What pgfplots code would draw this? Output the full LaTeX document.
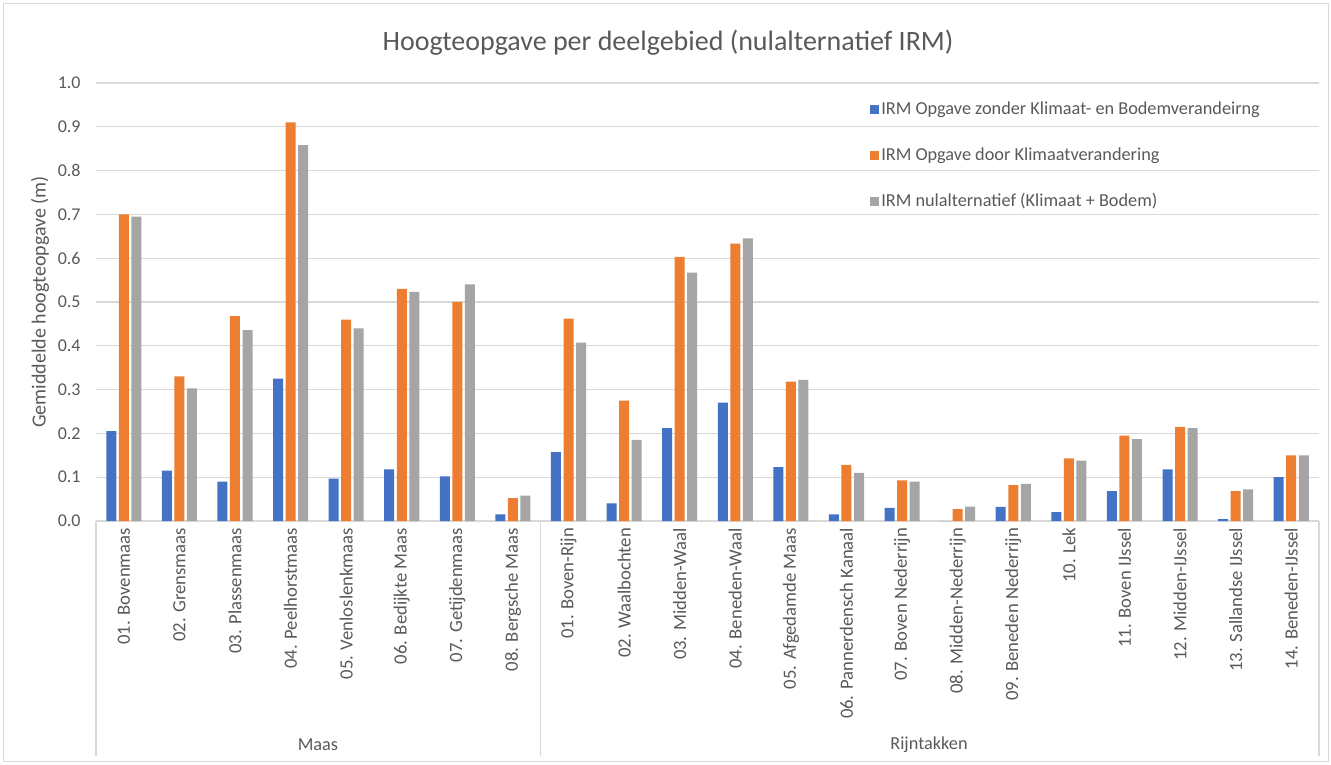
\documentclass[border=0pt]{standalone}
\usepackage{fontspec}
\setmainfont{Carlito}
\usepackage{pgfplots}
\usepackage{pgfplotstable}
\pgfplotsset{compat=1.18}

\definecolor{irmblue}{HTML}{4472C4}
\definecolor{irmorange}{HTML}{ED7D31}
\definecolor{irmgray}{HTML}{A5A5A5}
\definecolor{txt}{HTML}{595959}
\definecolor{gridc}{HTML}{D9D9D9}

% x: 0-7 Maas, 8-21 Rijntakken
\pgfplotstableread{
x zonder klimaat nul
0  0.205 0.700 0.695
1  0.115 0.330 0.303
2  0.090 0.468 0.436
3  0.325 0.910 0.858
4  0.097 0.460 0.440
5  0.118 0.530 0.523
6  0.102 0.500 0.540
7  0.015 0.052 0.058
8  0.157 0.462 0.407
9  0.040 0.275 0.185
10 0.212 0.603 0.567
11 0.270 0.633 0.645
12 0.123 0.318 0.322
13 0.015 0.128 0.110
14 0.030 0.093 0.090
15 0.000 0.027 0.033
16 0.032 0.082 0.085
17 0.020 0.143 0.138
18 0.068 0.195 0.187
19 0.118 0.215 0.212
20 0.004 0.068 0.072
21 0.100 0.150 0.150
}\data

\begin{document}
\begin{tikzpicture}[x=0.75pt,y=0.75pt]
\useasboundingbox (0,0) rectangle (1331,764);
\draw[gridc] (3,3) rectangle (1328,761);

\begin{axis}[
    at={(72pt,182.25pt)}, anchor=south west,
    scale only axis,
    width=917.25pt, height=328.5pt,
    ybar=1.9pt, bar width=7.5pt,
    xmin=-0.5, xmax=21.5,
    ymin=0, ymax=1.0,
    ytick={0,0.1,...,1.0},
    yticklabel style={/pgf/number format/fixed, /pgf/number format/fixed zerofill,
      /pgf/number format/precision=1},
    /pgf/number format/assume math mode=true,
    xtick=data,
    xticklabels={01. Bovenmaas, 02. Grensmaas, 03. Plassenmaas, 04. Peelhorstmaas,
      05. Venloslenkmaas, 06. Bedijkte Maas, 07. Getijdenmaas, 08. Bergsche Maas,
      01. Boven-Rijn, 02. Waalbochten, 03. Midden-Waal, 04. Beneden-Waal,
      05. Afgedamde Maas, 06. Pannerdensch Kanaal, 07. Boven Nederrijn,
      08. Midden-Nederrijn, 09. Beneden Nederrijn, 10. Lek, 11. Boven IJssel,
      12. Midden-IJssel, 13. Sallandse IJssel, 14. Beneden-IJssel},
    xticklabel style={yshift=-5pt, rotate=90, anchor=east, font=\fontsize{14}{16}\selectfont, text=txt, inner sep=0pt},
    yticklabel style={xshift=-8pt, font=\fontsize{13.5}{15}\selectfont, text=txt},
    major tick length=0pt,
    axis x line*=bottom,
    axis y line*=left,
    x axis line style={gridc, line width=0.8pt},
    y axis line style={draw=none},
    ymajorgrids, grid style={gridc, line width=0.8pt},
    axis line style={-},
    clip=false,
    legend style={at={(0.629,0.969)}, anchor=north west, draw=none, fill=none,
      font=\fontsize{13.7}{15}\selectfont, text=txt, row sep=19.2pt, cells={anchor=west}},
    legend image code/.code={\fill[#1,draw=none] (0pt,-3.4pt) rectangle (6.8pt,3.4pt);},
]
\addplot[fill=irmblue, draw=none] table[x=x, y=zonder] {\data};
\addplot[fill=irmorange, draw=none] table[x=x, y=klimaat] {\data};
\addplot[fill=irmgray, draw=none] table[x=x, y=nul] {\data};
\legend{IRM Opgave zonder Klimaat- en Bodemverandeirng,
  IRM Opgave door Klimaatverandering,
  IRM nulalternatief (Klimaat + Bodem)}
\end{axis}

% group separators
\draw[gridc, line width=0.8pt] (96,243) -- (96,8);
\draw[gridc, line width=0.8pt] (540.6,243) -- (540.6,8);
\draw[gridc, line width=0.8pt] (1319,243) -- (1319,8);
\node[text=txt, font=\fontsize{13.7}{15}\selectfont] at (318,19) {Maas};
\node[text=txt, font=\fontsize{13.7}{15}\selectfont] at (929,19) {Rijntakken};

\node[rotate=90, text=txt, font=\fontsize{15}{17}\selectfont] at (40,462) {Gemiddelde hoogteopgave (m)};
\node[text=txt, font=\fontsize{21}{24}\selectfont] at (668,721) {Hoogteopgave per deelgebied (nulalternatief IRM)};
\end{tikzpicture}
\end{document}
